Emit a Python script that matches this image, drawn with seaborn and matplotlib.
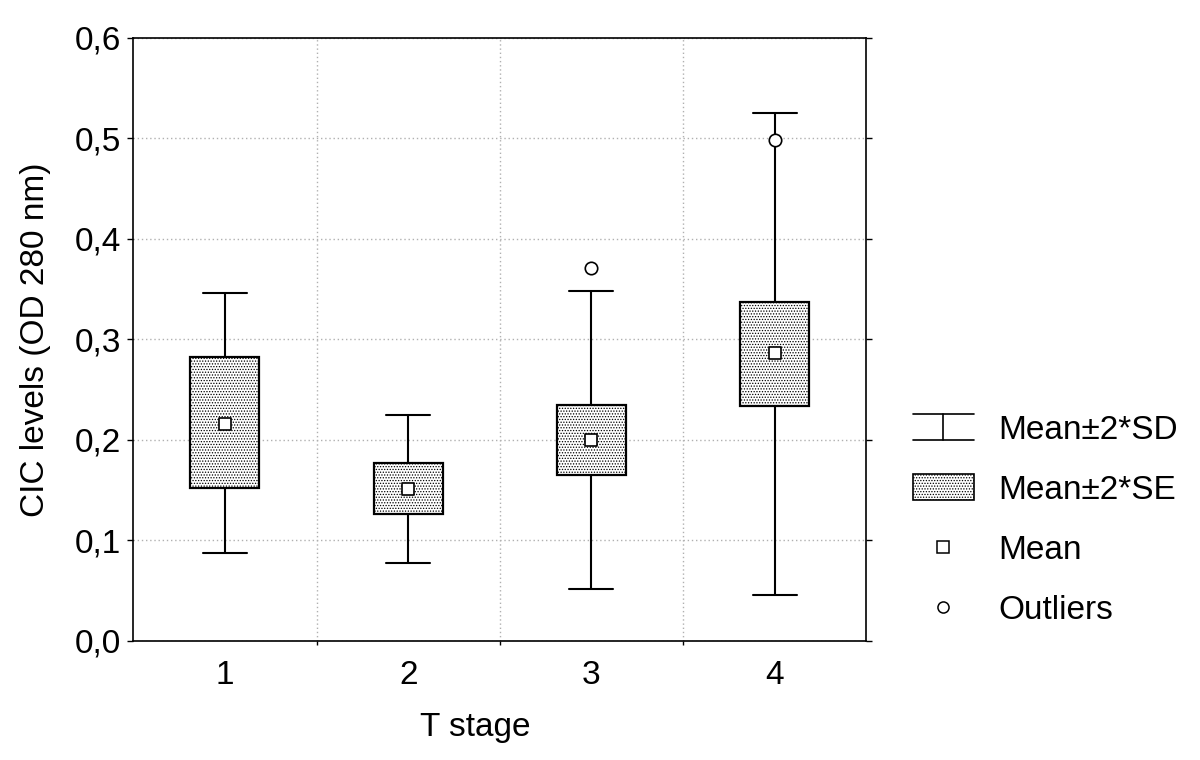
import numpy as np
import pandas as pd
import seaborn as sns
import matplotlib.pyplot as plt
from matplotlib.lines import Line2D
from matplotlib.patches import Patch
from matplotlib.legend_handler import HandlerBase
from matplotlib.ticker import FuncFormatter, FixedLocator

# values
stages = ["1", "2", "3", "4"]
mean_vals = [0.216, 0.151, 0.200, 0.286]
se_low = [0.152, 0.126, 0.165, 0.234]
se_high = [0.282, 0.177, 0.235, 0.337]
sd_low = [0.087, 0.077, 0.051, 0.045]
sd_high = [0.346, 0.225, 0.348, 0.525]
outlier_stage = ["3", "4"]
outlier_vals = [0.371, 0.498]

# five levels per stage: with 5 points the quartiles land exactly on the
# SE limits and the whiskers (whis=inf) on the SD limits
rows = []
for i, s in enumerate(stages):
    for v in (sd_low[i], se_low[i], mean_vals[i], se_high[i], sd_high[i]):
        rows.append({"stage": s, "cic": v})
df = pd.DataFrame(rows)

sns.set_theme(style="white")
plt.rcParams["font.family"] = ["Liberation Sans", "DejaVu Sans"]
plt.rcParams["hatch.linewidth"] = 0.6
plt.rcParams["text.color"] = "black"
plt.rcParams["axes.labelcolor"] = "black"
plt.rcParams["xtick.color"] = "black"
plt.rcParams["ytick.color"] = "black"

FS = 24

fig = plt.figure(figsize=(12, 7.6), dpi=100)
ax = fig.add_axes([0.111, 0.157, 0.611, 0.793])

sns.boxplot(
    data=df, x="stage", y="cic", order=stages,
    whis=np.inf, width=0.377, color="white", linecolor="black",
    linewidth=1.5, showfliers=False,
    medianprops={"linewidth": 0, "visible": False},
    ax=ax,
)

# dotted fill on boxes
for p in ax.patches:
    p.set_hatch("......")
    p.set_facecolor("white")
    p.set_edgecolor("black")
    p.set_linewidth(1.6)

# shorten the caps
for ln in ax.lines:
    xd, yd = np.asarray(ln.get_xdata(), float), np.asarray(ln.get_ydata(), float)
    if len(xd) == 2 and yd[0] == yd[1] and xd[0] != xd[1]:
        c = xd.mean()
        ln.set_xdata([c - 0.12, c + 0.12])

sns.scatterplot(x=stages, y=mean_vals, marker="s", s=70, color="white",
                edgecolor="black", linewidth=1.2, zorder=5, ax=ax)
sns.scatterplot(x=outlier_stage, y=outlier_vals, marker="o", s=80, color="white",
                edgecolor="black", linewidth=1.2, zorder=5, ax=ax)

ax.set_xlim(-0.5, 3.5)
ax.set_ylim(0, 0.6)
ax.set_yticks(np.arange(0, 0.61, 0.1))
ax.yaxis.set_major_formatter(FuncFormatter(lambda v, p: f"{v:.1f}".replace(".", ",")))
ax.xaxis.set_minor_locator(FixedLocator([0.5, 1.5, 2.5]))

ax.grid(False)
ax.grid(axis="y", which="major", color="#b0b0b0", linestyle=(0, (1, 2)), linewidth=1)
ax.grid(axis="x", which="minor", color="#b0b0b0", linestyle=(0, (1, 2)), linewidth=1)
ax.set_axisbelow(True)

for sp in ax.spines.values():
    sp.set_visible(True)
    sp.set_color("black")
    sp.set_linewidth(1.2)

ax.tick_params(axis="y", which="major", left=True, right=True, length=4,
               width=1, labelsize=FS, pad=5, color="black")
ax.tick_params(axis="x", which="major", bottom=False, labelsize=FS, pad=8)
ax.tick_params(axis="x", which="minor", bottom=True, length=3, width=1, color="black")

ax.set_xlabel("T stage", fontsize=FS)
ax.set_ylabel("CIC levels (OD 280 nm)", fontsize=FS)
ax.xaxis.set_label_coords(0.466, -0.118)
ax.yaxis.set_label_coords(-0.112, 0.5)


class HandlerIBar(HandlerBase):
    def create_artists(self, legend, orig_handle, xdescent, ydescent,
                       width, height, fontsize, trans):
        x0, x1 = -xdescent, -xdescent + width
        y0, y1 = -ydescent, -ydescent + height
        xm = (x0 + x1) / 2
        segs = [([x0, x1], [y1, y1]), ([x0, x1], [y0, y0]), ([xm, xm], [y0, y1])]
        out = []
        for xs, ys in segs:
            l = Line2D(xs, ys, color="black", linewidth=1.2)
            l.set_transform(trans)
            out.append(l)
        return out


sd_handle = Line2D([], [])
handles = [
    sd_handle,
    Patch(facecolor="white", edgecolor="black", hatch="......", linewidth=1.2),
    Line2D([], [], marker="s", linestyle="none", markersize=8,
           markerfacecolor="white", markeredgecolor="black", markeredgewidth=1.1),
    Line2D([], [], marker="o", linestyle="none", markersize=8,
           markerfacecolor="white", markeredgecolor="black", markeredgewidth=1.1),
]
labels = ["Mean±2*SD", "Mean±2*SE", "Mean", "Outliers"]
ax.legend(handles, labels, handler_map={sd_handle: HandlerIBar()},
          loc="center left", bbox_to_anchor=(1.022, 0.2), frameon=False,
          fontsize=FS, handlelength=1.83, handleheight=0.81,
          labelspacing=0.86, handletextpad=0.75)

fig.savefig("out.png", dpi=100, facecolor="white")
